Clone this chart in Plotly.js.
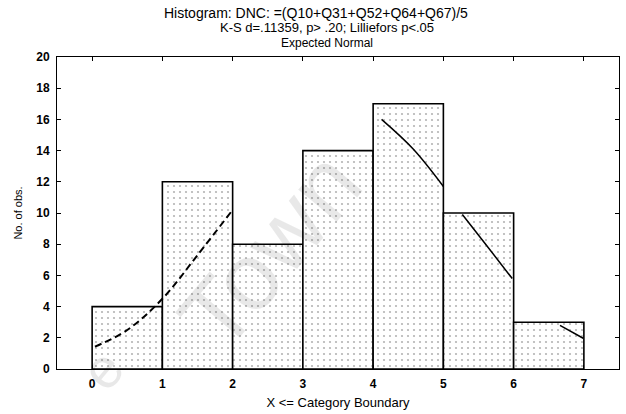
<!DOCTYPE html>
<html>
<head>
<meta charset="utf-8">
<script src="https://cdn.plot.ly/plotly-3.0.1.min.js"></script>
<style>html,body{margin:0;padding:0;background:#fff;}#chart{width:626px;height:414px;}</style>
</head>
<body>
<div id="chart"></div>
<script>
// Histogram data (left bin boundaries and observed counts)
var binEdges = [0, 1, 2, 3, 4, 5, 6];
var counts = [4, 12, 8, 14, 17, 10, 3];
var xTickVals = [0, 1, 2, 3, 4, 5, 6, 7];
var yTickVals = [0, 2, 4, 6, 8, 10, 12, 14, 16, 18, 20];

// Expected normal curve, visible segments
var curveDashX = [0.04, 0.5, 1.0, 1.5, 2.0];
var curveDashY = [1.43, 2.5, 4.5, 7.3, 10.2];
var curveSolidX = [4.12, 4.57, 5.0, null, 5.27, 5.61, 5.98, null, 6.66, 6.99];
var curveSolidY = [16.0, 14.1, 11.7, null, 9.9, 7.95, 5.8, null, 2.8, 1.97];

var titleLines = [
  'Histogram: DNC: =(Q10+Q31+Q52+Q64+Q67)/5',
  'K-S d=.11359, p> .20; Lilliefors p<.05',
  'Expected Normal'
];

var FONT = 'Liberation Sans, Arial, sans-serif';

var traces = [
  {
    type: 'bar',
    x: binEdges,
    y: counts,
    width: 1,
    offset: 0,
    marker: {
      color: '#ffffff',
      line: {color: '#000000', width: 1.6},
      pattern: {shape: '.', bgcolor: '#ffffff', fgcolor: '#b4b4b4', size: 6, solidity: 0.1}
    },
    hoverinfo: 'x+y',
    showlegend: false
  },
  {
    type: 'scatter', mode: 'lines',
    x: curveDashX, y: curveDashY,
    line: {color: '#000000', width: 2, dash: '7px,4px', shape: 'spline'},
    showlegend: false
  },
  {
    type: 'scatter', mode: 'lines',
    x: curveSolidX, y: curveSolidY,
    line: {color: '#000000', width: 1.5, shape: 'spline'},
    connectgaps: false,
    showlegend: false
  }
];

var titleSizes = [14, 13, 12];
var titleX = [0.461, 0.480, 0.480];
var titleY = [1.141, 1.093, 1.045];
var annotations = titleLines.map(function (t, i) {
  return {
    text: t, xref: 'paper', yref: 'paper', x: titleX[i], y: titleY[i],
    xanchor: 'center', yanchor: 'middle', showarrow: false,
    font: {family: FONT, size: titleSizes[i], color: '#000000'}
  };
});
// faint scanned watermark fragments
annotations.push({
  text: 'Town', xref: 'paper', yref: 'paper', x: 0.379, y: 0.381,
  xanchor: 'center', yanchor: 'middle', showarrow: false, textangle: -50,
  font: {family: FONT, size: 95, color: 'rgba(0,0,0,0.09)'}
});
annotations.push({
  text: 'e', xref: 'paper', yref: 'paper', x: 0.08, y: 0.0,
  xanchor: 'center', yanchor: 'middle', showarrow: false, textangle: -50,
  font: {family: FONT, size: 56, color: 'rgba(0,0,0,0.09)'}
});

var layout = {
  width: 626, height: 414,
  paper_bgcolor: '#ffffff', plot_bgcolor: '#ffffff',
  margin: {l: 57, r: 7, t: 57, b: 45},
  font: {family: FONT, color: '#000000'},
  annotations: annotations,
  bargap: 0,
  xaxis: {
    range: [-0.5, 7.5],
    tickvals: xTickVals,
    ticktext: xTickVals.map(String),
    ticks: 'inside', ticklen: 4, tickcolor: '#000', tickwidth: 1,
    showline: true, linecolor: '#000', linewidth: 1, mirror: 'ticks',
    showgrid: false, zeroline: false,
    tickfont: {family: FONT, size: 12, color: '#000', weight: 'bold'},
    ticklabelstandoff: 4,
    title: {text: 'X <= Category Boundary', font: {family: FONT, size: 13, color: '#000'}, standoff: 7}
  },
  yaxis: {
    range: [0, 20],
    tickvals: yTickVals,
    ticks: 'inside', ticklen: 4, tickcolor: '#000', tickwidth: 1,
    showline: true, linecolor: '#000', linewidth: 1, mirror: 'ticks',
    showgrid: false, zeroline: false,
    tickfont: {family: FONT, size: 12, color: '#000', weight: 'bold'},
    ticklabelstandoff: 4,
    title: {text: 'No. of obs.', font: {family: FONT, size: 11, color: '#000'}, standoff: 11}
  }
};

Plotly.newPlot('chart', traces, layout, {displayModeBar: false, staticPlot: true});
</script>
</body>
</html>
